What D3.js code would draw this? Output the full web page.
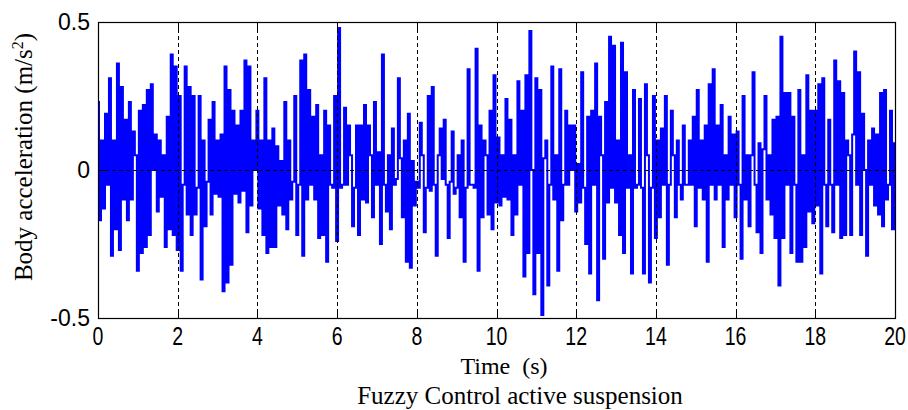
<!DOCTYPE html>
<html><head><meta charset="utf-8">
<script src="https://cdn.jsdelivr.net/npm/d3@7"></script>
<style>body{margin:0;background:#fff}svg{display:block}</style></head>
<body><svg id="c" width="908" height="410"></svg>
<script>
const xTicks = [0, 2, 4, 6, 8, 10, 12, 14, 16, 18, 20];
const yTicks = [-0.5, 0, 0.5];
const yTickLabels = ["-0.5", "0", "0.5"];
const gridX = [2, 4, 6, 8, 10, 12, 14, 16, 18];
const gridY = [0];
const sampleStep = 0.05; // seconds between samples
const accel = [
 0.23,-0.17,0.1,-0.13,0.19,-0.05,0.31,-0.29,0.1,-0.2,0.36,-0.27,0.28,-0.1,0.17,-0.17,0.23,-0.1,0.13,0.05,
 -0.34,0.2,-0.28,0.22,-0.26,0.27,-0.22,0.29,0.0,0.12,-0.14,0.1,-0.09,0.05,-0.26,0.18,-0.2,0.39,-0.22,0.35,
 -0.27,0.25,-0.34,-0.05,0.35,-0.15,0.28,-0.22,0.25,-0.15,-0.06,
 0.25,-0.37,0.1,-0.19,-0.04,0.17,-0.15,0.23,-0.08,0.1,-0.09,0.12,-0.41,0.35,-0.38,0.27,-0.32,0.2,-0.08,0.15,-0.11,0.2,-0.07,0.37,-0.21,0.35,-0.12,0.1,0.0,0.2,-0.13,0.1,-0.22,0.31,-0.28,0.1,-0.26,0.14,-0.26,0.08,-0.12,0.03,-0.15,0.23,-0.2,0.1,-0.1,-0.04,0.25,-0.22,-0.05,
 0.37,-0.29,0.39,-0.1,0.27,-0.05,0.18,-0.1,0.22,-0.23,0.05,-0.22,0.2,-0.31,0.15,-0.05,-0.06,0.25,-0.24,0.48,-0.06,-0.05,0.21,-0.05,0.15,0.05,-0.19,-0.06,0.15,-0.22,0.15,-0.1,0.22,-0.11,0.15,0.05,-0.16,0.23,-0.05,0.06,-0.25,0.39,-0.05,-0.14,0.05,-0.2,0.14,-0.05,-0.03,0.31,
 0.04,-0.16,0.1,-0.31,0.19,-0.33,0.03,-0.12,-0.04,-0.06,0.16,0.05,-0.21,-0.06,0.25,-0.07,0.28,-0.05,-0.29,0.05,0.14,-0.03,0.17,-0.05,-0.23,-0.04,0.13,-0.08,-0.06,0.05,-0.16,0.1,-0.31,-0.06,0.34,-0.05,-0.05,-0.06,0.41,-0.34,0.15,-0.16,0.1,0.05,-0.15,0.2,-0.2,0.32,-0.11,0.11,
 -0.12,0.05,-0.09,0.24,-0.1,0.17,-0.22,0.05,-0.15,0.3,-0.05,0.2,-0.36,0.32,-0.28,0.47,0.0,-0.42,0.31,-0.28,0.27,-0.49,0.04,0.1,-0.39,-0.05,0.35,-0.1,0.05,-0.34,0.34,-0.17,-0.05,0.2,-0.05,0.15,0.0,0.15,-0.14,0.02,-0.11,0.33,-0.06,-0.25,0.18,-0.35,0.2,-0.05,0.36,-0.44,
 0.18,0.05,-0.3,0.23,-0.11,0.45,-0.06,0.42,-0.11,0.1,-0.22,0.43,-0.28,0.33,-0.06,0.05,-0.35,0.27,-0.06,-0.05,0.24,-0.06,-0.35,0.29,0.05,-0.38,-0.06,0.25,-0.23,0.1,-0.16,0.14,-0.05,0.25,-0.32,-0.05,0.2,0.05,-0.16,0.1,-0.05,-0.1,0.15,-0.05,-0.05,0.1,-0.05,0.18,-0.19,0.27,
 -0.06,0.1,-0.1,0.15,-0.31,0.29,-0.05,0.34,-0.1,0.15,-0.05,0.22,-0.26,0.05,-0.1,0.18,-0.05,0.12,-0.16,0.13,-0.05,-0.3,0.25,-0.1,0.05,-0.19,0.05,0.33,-0.05,-0.21,0.09,-0.28,0.07,0.25,-0.1,0.05,-0.15,0.17,-0.23,0.18,-0.39,0.45,-0.23,0.26,-0.05,0.26,-0.28,0.18,-0.05,-0.31,
 0.27,-0.31,0.05,-0.26,0.32,-0.14,0.2,-0.18,0.2,-0.12,0.29,-0.35,0.31,-0.05,-0.19,0.17,-0.05,-0.21,0.37,-0.05,0.3,-0.23,0.26,-0.22,0.1,0.05,-0.22,0.12,0.4,-0.05,0.33,-0.22,0.19,0.0,-0.29,0.1,-0.05,0.14,-0.12,0.12,-0.15,0.26,-0.19,0.27,-0.1,-0.05,0.2,-0.2,0.09
];
const xLabel = "Time  (s)";
const yLabelMain = "Body acceleration (m/s";
const yLabelSup = "2";
const yLabelEnd = ")";
const title = "Fuzzy Control active suspension";

const svg = d3.select("#c");
const L = 98, R = 895, T = 22, B = 318;
const x = d3.scaleLinear().domain([0, 20]).range([L, R]);
const y = d3.scaleLinear().domain([-0.5, 0.5]).range([B, T]);

const g = svg.append("g");
g.append("defs").append("clipPath").attr("id", "clip")
  .append("rect").attr("x", L).attr("y", T).attr("width", R - L).attr("height", B - T);

const line = d3.line().x((d, i) => x(i * sampleStep)).y(d => y(d)).curve(d3.curveStep);
g.append("path").datum(accel).attr("clip-path", "url(#clip)")
  .attr("d", line).attr("fill", "none").attr("stroke", "#0000ff").attr("stroke-width", 2)
  .attr("stroke-linejoin", "miter");

// grid (on top)
g.selectAll(".gx").data(gridX).join("line")
  .attr("x1", d => Math.round(x(d)) + 0.5).attr("x2", d => Math.round(x(d)) + 0.5)
  .attr("y1", T).attr("y2", B).attr("stroke", "#000").attr("stroke-width", 1)
  .attr("stroke-dasharray", "4,3");
g.selectAll(".gy").data(gridY).join("line")
  .attr("x1", L).attr("x2", R)
  .attr("y1", d => Math.round(y(d)) + 0.5).attr("y2", d => Math.round(y(d)) + 0.5)
  .attr("stroke", "#000").attr("stroke-width", 1).attr("stroke-dasharray", "4,3");

// frame
g.append("rect").attr("x", L + 0.5).attr("y", T + 0.5).attr("width", R - L).attr("height", B - T)
  .attr("fill", "none").attr("stroke", "#000").attr("stroke-width", 1.2);

// ticks
const tl = 7;
xTicks.forEach(t => {
  const xx = Math.round(x(t)) + 0.5;
  g.append("line").attr("x1", xx).attr("x2", xx).attr("y1", B).attr("y2", B - tl).attr("stroke", "#000");
  g.append("line").attr("x1", xx).attr("x2", xx).attr("y1", T).attr("y2", T + tl).attr("stroke", "#000");
});
yTicks.forEach(v => {
  const yy = Math.round(y(v)) + 0.5;
  g.append("line").attr("x1", L).attr("x2", L + tl).attr("y1", yy).attr("y2", yy).attr("stroke", "#000");
  g.append("line").attr("x1", R).attr("x2", R - tl).attr("y1", yy).attr("y2", yy).attr("stroke", "#000");
});

// tick labels
g.selectAll(".xt").data(xTicks).join("text")
  .attr("transform", d => `translate(${x(d)},345) scale(0.75,1)`)
  .attr("text-anchor", "middle").attr("font-family", "Liberation Sans, Arial, sans-serif")
  .attr("font-size", 26).attr("fill", "#000").text(d => d);
g.selectAll(".yt").data(yTicks).join("text")
  .attr("x", 90).attr("y", d => y(d) + 8)
  .attr("text-anchor", "end").attr("font-family", "Liberation Sans, Arial, sans-serif")
  .attr("font-size", 23).attr("fill", "#000").text((d, i) => yTickLabels[i]);

// axis labels
g.append("text").attr("x", 504).attr("y", 374).attr("text-anchor", "middle")
  .attr("font-family", "Liberation Serif, Times New Roman, serif").attr("font-size", 24)
  .attr("xml:space", "preserve").style("white-space", "pre").text(xLabel);
g.append("text").attr("x", 520).attr("y", 404).attr("text-anchor", "middle")
  .attr("font-family", "Liberation Serif, Times New Roman, serif").attr("font-size", 25)
  .text(title);
const yl = g.append("text").attr("transform", "translate(32,157) rotate(-90)")
  .attr("text-anchor", "middle")
  .attr("font-family", "Liberation Serif, Times New Roman, serif").attr("font-size", 25);
yl.append("tspan").text(yLabelMain);
yl.append("tspan").attr("dy", -9).attr("font-size", 16).text(yLabelSup);
yl.append("tspan").attr("dy", 9).text(yLabelEnd);
</script>
</body></html>
